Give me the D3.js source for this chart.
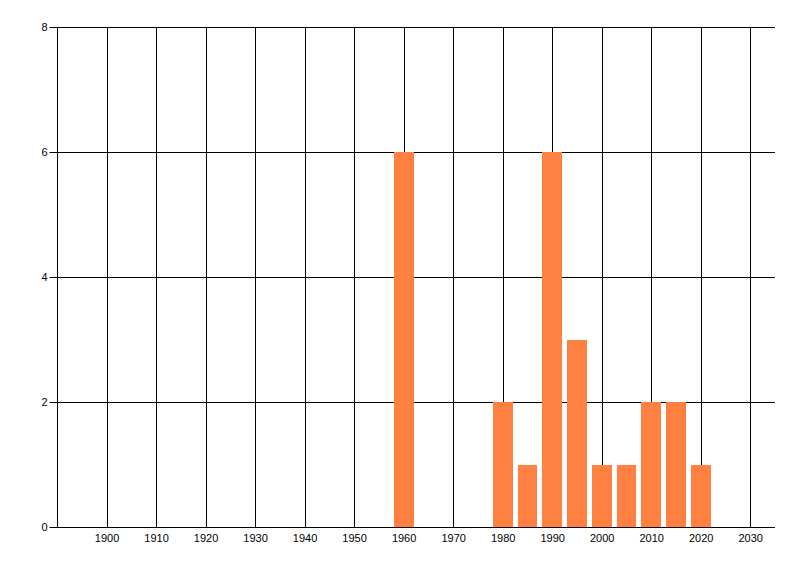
<!DOCTYPE html>
<html>
<head>
<meta charset="utf-8">
<script src="https://cdn.jsdelivr.net/npm/d3@7"></script>
<style>
  body { margin: 0; background: #fff; }
  text { font-family: "Liberation Sans", Arial, sans-serif; font-size: 11px; fill: #000; }
</style>
</head>
<body>
<div id="chart"></div>
<script>
var svgWidth = 800;
var svgHeight = 576;

// chart data
var years = [1960, 1980, 1985, 1990, 1995, 2000, 2005, 2010, 2015, 2020];
var counts = [6, 2, 1, 6, 3, 1, 1, 2, 2, 1];
var xTicks = [1900, 1910, 1920, 1930, 1940, 1950, 1960, 1970, 1980, 1990, 2000, 2010, 2020, 2030];
var yTicks = [0, 2, 4, 6, 8];

var margin = { top: 27, right: 25, bottom: 49, left: 57 };
var width = svgWidth - margin.left - margin.right;
var height = svgHeight - margin.top - margin.bottom;

var svg = d3.select("#chart")
  .append("svg")
  .attr("width", svgWidth)
  .attr("height", svgHeight);

var chartGroup = svg.append("g")
  .attr("transform", `translate(${margin.left}, ${margin.top})`);

var xScale = d3.scaleLinear().domain([1890, 2035]).range([0, width]);
var yScale = d3.scaleLinear().domain([0, 8]).range([height, 0]);

// vertical grid
chartGroup.append("g")
  .selectAll("line")
  .data(xTicks)
  .enter()
  .append("line")
  .attr("x1", d => Math.round(xScale(d)) + 0.5)
  .attr("x2", d => Math.round(xScale(d)) + 0.5)
  .attr("y1", 0)
  .attr("y2", height)
  .attr("stroke", "#000");

// horizontal grid
chartGroup.append("g")
  .selectAll("line")
  .data(yTicks.slice(1))
  .enter()
  .append("line")
  .attr("x1", 0)
  .attr("x2", width)
  .attr("y1", d => Math.round(yScale(d)) + 0.5)
  .attr("y2", d => Math.round(yScale(d)) + 0.5)
  .attr("stroke", "#000");

// bars
chartGroup.selectAll("rect")
  .data(years)
  .enter()
  .append("rect")
  .attr("x", d => Math.round(xScale(d - 2)))
  .attr("width", d => Math.round(xScale(d + 2)) - Math.round(xScale(d - 2)))
  .attr("y", (d, i) => Math.round(yScale(counts[i])))
  .attr("height", (d, i) => height - Math.round(yScale(counts[i])))
  .attr("fill", "#ff8040");

// x axis
var bottomAxis = d3.axisBottom(xScale)
  .tickValues(xTicks)
  .tickFormat(d3.format("d"))
  .tickSize(0)
  .tickPadding(7);

var xAxis = chartGroup.append("g")
  .attr("transform", `translate(0, ${height + 0.5})`)
  .call(bottomAxis);
xAxis.select(".domain").attr("stroke", "#000").attr("d", `M0,0H${width}`);
xAxis.selectAll("text").style("font-family", null).style("font-size", null);

// y axis
var leftAxis = d3.axisLeft(yScale)
  .tickValues(yTicks)
  .tickSize(8)
  .tickPadding(2);

var yAxis = chartGroup.append("g")
  .attr("transform", "translate(0.5, 0)")
  .call(leftAxis);
yAxis.select(".domain").attr("stroke", "#000").attr("d", `M0,0V${height}`);
yAxis.selectAll(".tick line").attr("stroke", "#000");
yAxis.selectAll("text").attr("font-family", null).attr("font-size", null);
chartGroup.selectAll(".tick text").attr("fill", "#000");
svg.selectAll("g").attr("font-family", null).attr("font-size", null);
</script>
</body>
</html>
